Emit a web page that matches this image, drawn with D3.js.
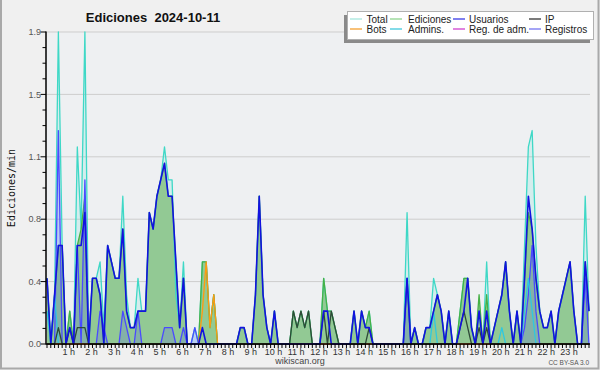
<!DOCTYPE html>
<html><head><meta charset="utf-8">
<script src="https://cdn.jsdelivr.net/npm/d3@7"></script>
<style>
body{margin:0;background:#f0f0f0}
svg{display:block}
text{font-family:"Liberation Sans",Arial,sans-serif}
</style>
</head><body><svg id="c" width="600" height="370"></svg>
<script>
// ---- data: 144 bins of 10 minutes, edits per minute ----
const total = [
 .4,0,.3,1.9,.6,0,.2,0,1.2,.7,1.9,0,
 .4,.4,.5,.1,.6,.5,.4,.4,.9,.3,.1,.1,
 .4,.2,.2,.8,.7,.9,1.0,1.2,1.0,1.0,.3,.1,
 .5,0,0,.1,0,.5,.5,.1,.3,0,0,0,
 0,0,0,.1,.1,0,0,.3,.9,.3,.1,0,
 .2,0,0,0,0,.2,.1,.2,.1,.2,0,0,
 0,.4,.2,.2,.1,0,0,0,0,.2,0,.2,
 .1,.2,0,0,0,0,0,0,0,0,0,.8,
 0,.1,0,0,.1,.1,.4,.3,.2,0,.2,0,
 0,.2,.4,.4,.1,0,.2,0,.5,0,.1,.2,
 .3,.5,.2,0,.2,0,.6,1.2,1.3,.6,.2,.1,
 .1,.2,0,.2,.3,.4,.5,.2,0,0,.9,.2];
const ediciones = [
 .4,0,.3,.6,.6,0,.2,0,.6,.7,.9,0,
 .4,.4,.3,0,.6,.5,.4,.4,.7,.2,.1,.1,
 .2,.2,.2,.8,.7,.9,1.0,1.1,.9,.9,.5,.1,
 .4,0,0,0,0,.5,.5,.1,.3,0,0,0,
 0,0,0,.1,.1,0,0,.3,.9,.3,.1,0,
 .2,0,0,0,0,.2,.1,.2,.1,.2,0,0,
 0,.4,.2,.2,.1,0,0,0,0,.2,0,.2,
 .1,.2,0,0,0,0,0,0,0,0,0,.4,
 0,.1,0,0,.1,.1,.2,.3,.2,0,.2,0,
 0,.2,.4,.4,.1,0,.3,0,.3,0,.1,.2,
 .3,.5,.2,0,.2,0,.4,.8,.7,.4,.2,.1,
 .1,.2,0,.2,.3,.4,.5,.2,0,0,.5,.2];
const usuarios = [
 .4,0,.3,.6,.6,0,.1,0,.6,.6,.8,0,
 .4,.4,.3,0,.6,.5,.4,.4,.7,.2,.1,.1,
 .2,.2,.2,.8,.7,.9,1.0,1.1,.9,.9,.5,.1,
 .4,0,0,0,0,.1,0,0,0,0,0,0,
 0,0,0,.1,.1,0,0,.3,.9,.3,.1,0,
 .2,0,0,0,0,0,0,0,0,0,0,0,
 0,.2,.2,0,0,0,0,0,0,.2,0,.2,
 .1,.1,0,0,0,0,0,0,0,0,0,.4,
 0,.1,0,0,.1,.1,.2,.3,.2,0,.2,0,
 0,.1,.2,.4,.1,0,.2,0,.2,0,.1,.2,
 .3,.5,.2,0,.2,0,.4,.9,.7,.4,.2,.1,
 .1,.2,0,.2,.3,.4,.5,.2,0,0,.5,.2];
const ip = [
 0,0,0,.1,0,0,.1,0,.1,.1,.1,0,
 0,0,0,0,0,0,0,0,0,0,0,0,
 0,0,0,0,0,0,0,0,0,0,0,0,
 0,0,0,0,0,0,0,0,0,0,0,0,
 0,0,0,0,0,0,0,0,0,0,0,0,
 0,0,0,0,0,.2,.1,.2,.1,.2,0,0,
 0,.2,0,.2,.1,0,0,0,0,0,0,0,
 0,.1,0,0,0,0,0,0,0,0,0,0,
 0,0,0,0,0,0,0,0,0,0,0,0,
 0,.1,.2,.1,0,0,.1,0,.1,0,0,0,
 0,0,0,0,0,0,0,0,0,0,0,0,
 0,0,0,0,0,0,0,0,0,0,0,0];
const bots = [
 0,0,0,0,0,0,0,0,0,0,0,0,
 0,0,0,0,0,0,0,0,0,0,0,0,
 0,0,0,0,0,0,0,0,0,0,0,0,
 0,0,0,0,0,.2,.5,.1,.3,0,0,0,
 0,0,0,0,0,0,0,0,0,0,0,0,
 0,0,0,0,0,0,0,0,0,0,0,0,
 0,0,0,0,0,0,0,0,0,0,0,0,
 0,0,0,0,0,0,0,0,0,0,0,0,
 0,0,0,0,0,0,0,0,0,0,0,0,
 0,0,0,0,0,0,0,0,0,0,0,0,
 0,0,0,0,0,0,0,0,0,0,0,0,
 0,0,0,0,0,0,0,0,0,0,0,0];
const admins = [
 .2,0,.3,0,0,0,0,0,0,0,0,0,
 0,0,0,0,0,0,0,0,0,0,0,0,
 0,0,0,0,0,0,0,0,0,0,0,0,
 0,0,0,0,0,0,0,0,0,0,0,0,
 0,0,0,0,0,0,0,0,0,0,0,0,
 0,0,0,0,0,0,0,0,0,0,0,0,
 0,0,0,0,0,0,0,0,0,0,0,0,
 0,0,0,0,0,0,0,0,0,0,0,0,
 0,0,0,0,0,0,.2,0,0,0,0,0,
 0,0,0,0,0,0,0,0,0,0,0,0,
 .1,0,0,0,0,0,.2,.4,.2,0,0,0,
 0,0,0,0,0,0,0,0,0,0,0,0];
const regAdm = new Array(144).fill(0);
const registros = [
 0,0,0,1.3,0,0,0,0,.6,0,1.0,0,
 0,0,.2,.1,0,0,0,0,.2,.1,0,0,
 .2,0,0,0,0,0,0,.1,.1,.1,0,0,
 .1,0,0,.1,0,0,0,0,0,0,0,0,
 0,0,0,0,0,0,0,0,0,0,0,0,
 0,0,0,0,0,0,0,0,0,0,0,0,
 0,0,0,0,0,0,0,0,0,0,0,0,
 0,0,0,0,0,0,0,0,0,0,0,.4,
 0,0,0,0,0,0,0,0,0,0,0,0,
 0,0,0,0,0,0,0,0,0,0,0,0,
 0,0,0,0,0,0,.1,.3,.6,.2,0,0,
 0,0,0,0,0,0,0,0,0,0,.4,0];

const hourLabels = d3.range(1,24).map(h => h + " h");
const yTickLabels = ["0.0","0.4","0.8","1.1","1.5","1.9"];
const legendNames = ["Total","Ediciones","Usuarios","IP","Bots","Admins.","Reg. de adm.","Registros"];
const legendColors = ["#a6e6de","#8fd48f","#3a3ae6","#333333","#f5a030","#40c8dc","#d040d0","#7474f2"];
const titleText = "Ediciones  2024-10-11";
const yTitle = "Ediciones/min";
const yMax = 1.9;

// ---- drawing ----
const svg = d3.select("#c");
const x = d3.scaleLinear().domain([0,143]).range([47,589]);
const y = d3.scaleLinear().domain([0,yMax]).range([344,32]);

svg.append("rect").attr("x",0).attr("y",0).attr("width",600).attr("height",370).attr("fill","#f0f0f0");
svg.append("rect").attr("x",46).attr("y",32).attr("width",544).attr("height",312).attr("fill","#eef0f2");
// frame
svg.append("path").attr("d","M1,0V368.5H598.5V0").attr("fill","none").attr("stroke","#a9a9a9").attr("stroke-width",2);

// grid
const major = d3.range(0,6).map(k => k*yMax/5);
svg.append("g").selectAll("line").data(major.slice(1)).join("line")
  .attr("x1",46).attr("x2",590).attr("y1",d=>y(d)).attr("y2",d=>y(d))
  .attr("stroke","#cdcdcd").attr("stroke-width",1);

const idx = d3.range(144);
const area = arr => d3.area().x(i=>x(i)).y0(y(0)).y1(i=>y(arr[i]))(idx);
const line = arr => d3.line().x(i=>x(i)).y(i=>y(arr[i]))(idx);

svg.append("path").attr("d",area(total)).attr("fill","#40e0d0").attr("fill-opacity",0.15);
svg.append("path").attr("d",area(ediciones)).attr("fill","#92c994");
svg.append("path").attr("d",area(registros)).attr("fill","#4646ff").attr("fill-opacity",0.18);

const lines = [
  [total,"#3ed8c6",1.3],
  [ediciones,"#46b046",1.3],
  [registros,"#4a4aff",1.3],
  [admins,"#2fc8e0",1.3],
  [regAdm,"#d040d0",1.3],
  [bots,"#ff9a10",1.3],
  [ip,"#2e4a38",1.3],
  [usuarios,"#1212e0",1.6]
];
lines.forEach(([arr,c,w]) => {
  svg.append("path").attr("d",line(arr)).attr("fill","none").attr("stroke",c)
    .attr("stroke-width",w).attr("stroke-linejoin","round");
});

// y axis
const ya = svg.append("g");
ya.append("line").attr("x1",46).attr("x2",46).attr("y1",31.5).attr("y2",344.5).attr("stroke","#000").attr("stroke-width",1.5);
ya.selectAll("line.mi").data(d3.range(0,21)).join("line").attr("class","mi")
  .attr("x1",d => d%4===0 ? 40.5 : 42.5).attr("x2",46).attr("y1",d=>y(d*yMax/20)).attr("y2",d=>y(d*yMax/20))
  .attr("stroke","#000").attr("stroke-width",1);
ya.selectAll("text").data(yTickLabels).join("text")
  .attr("x",41).attr("y",(d,k)=>y(major[k])).attr("dy","0.35em").attr("text-anchor","end")
  .attr("font-size",9).attr("fill","#555").text(d=>d);
svg.append("text").attr("transform","translate(15,188) rotate(-90)").attr("text-anchor","middle")
  .style("font-family","'DejaVu Sans Mono',monospace").attr("font-size",10).attr("fill","#111").text(yTitle);

// x axis
const xa = svg.append("g");
xa.selectAll("line").data(d3.range(0,144)).join("line")
  .attr("x1",i=>x(i)).attr("x2",i=>x(i)).attr("y1",344).attr("y2",348)
  .attr("stroke","#000").attr("stroke-width",1);
xa.append("line").attr("x1",46).attr("x2",590).attr("y1",344).attr("y2",344).attr("stroke","#000").attr("stroke-width",1.6);
xa.selectAll("text").data(hourLabels).join("text")
  .attr("x",(d,k)=>x((k+1)*6)-1).attr("y",355).attr("text-anchor","middle")
  .attr("font-size",9).attr("fill","#333").text(d=>d);

// title
svg.append("text").attr("x",153).attr("y",22).attr("text-anchor","middle")
  .attr("font-size",13).attr("font-weight","bold").attr("fill","#111")
  .style("white-space","pre").text(titleText);

// footer
svg.append("text").attr("x",300).attr("y",364).attr("text-anchor","middle").attr("font-size",9).attr("fill","#444").text("wikiscan.org");
svg.append("text").attr("x",589).attr("y",365).attr("text-anchor","end").attr("font-size",6.5).attr("fill","#555").text("CC BY-SA 3.0");

// legend
const lg = svg.append("g");
lg.append("rect").attr("x",344).attr("y",15).attr("width",246).attr("height",28).attr("fill","#8a8a8a");
lg.append("rect").attr("x",347.5).attr("y",11.5).attr("width",246).attr("height",28).attr("fill","#fff").attr("stroke","#b0b0b0");
const colX = [350,390,453,529];
const txtX = [366.5,408,469,545];
legendNames.forEach((n,k) => {
  const col = k%4, row = Math.floor(k/4);
  const yy = 19 + row*10;
  lg.append("line").attr("x1",colX[col]).attr("x2",colX[col]+12).attr("y1",yy).attr("y2",yy)
    .attr("stroke",legendColors[k]).attr("stroke-width",1.3);
  lg.append("text").attr("x",txtX[col]).attr("y",yy).attr("dy","0.36em").attr("font-size",10)
    .attr("fill","#222").text(n);
});
</script>
</body></html>
